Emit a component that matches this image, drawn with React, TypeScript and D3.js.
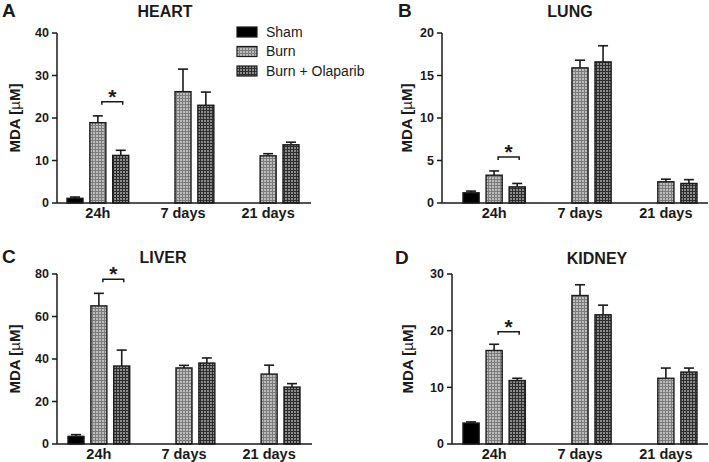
import { useEffect } from 'react'
import * as d3 from 'd3'

// time points and treatment groups
const groups = ['24h', '7 days', '21 days']
const series = ['Sham', 'Burn', 'Burn + Olaparib']

// MDA [µM], mean and SEM (upper error only), one array per series
const heartSham = [1.1, null, null]
const heartShamErr = [0.3, null, null]
const heartBurn = [18.9, 26.2, 11.1]
const heartBurnErr = [1.6, 5.3, 0.5]
const heartOla = [11.2, 23.0, 13.7]
const heartOlaErr = [1.2, 3.1, 0.6]

const lungSham = [1.2, null, null]
const lungShamErr = [0.2, null, null]
const lungBurn = [3.27, 15.9, 2.5]
const lungBurnErr = [0.5, 0.9, 0.3]
const lungOla = [1.9, 16.6, 2.3]
const lungOlaErr = [0.4, 1.9, 0.45]

const liverSham = [3.6, null, null]
const liverShamErr = [0.8, null, null]
const liverBurn = [65.0, 35.8, 32.9]
const liverBurnErr = [5.9, 1.2, 4.2]
const liverOla = [36.7, 38.1, 26.8]
const liverOlaErr = [7.5, 2.4, 1.6]

const kidneySham = [3.7, null, null]
const kidneyShamErr = [0.2, null, null]
const kidneyBurn = [16.5, 26.2, 11.6]
const kidneyBurnErr = [1.1, 1.9, 1.8]
const kidneyOla = [11.2, 22.8, 12.7]
const kidneyOlaErr = [0.4, 1.7, 0.7]

const heartTicks = [0, 10, 20, 30, 40]
const lungTicks = [0, 5, 10, 15, 20]
const liverTicks = [0, 20, 40, 60, 80]
const kidneyTicks = [0, 10, 20, 30]

// significance bracket (Burn vs Burn + Olaparib at 24h), in data units
const heartSig = 23.8
const lungSig = 5.4
const liverSig = 77.5
const kidneySig = 19.8

const FONT = '"Liberation Sans", Arial, sans-serif'
const INK = '#1a1a1a'
const fills = ['#000', 'url(#patBurn)', 'url(#patOla)']

type Panel = {
  letter: string
  title: string
  means: (number | null)[][]
  errs: (number | null)[][]
  ticks: number[]
  sig: number
  axisX: number
  barL: number
  barR: number
  axisR: number
  top: number
  zero: number
  letterX: number
  letterY: number
  titleX: number
  titleY: number
  labelX: number
}

const panels: Panel[] = [
  {
    letter: 'A', title: 'HEART',
    means: [heartSham, heartBurn, heartOla], errs: [heartShamErr, heartBurnErr, heartOlaErr],
    ticks: heartTicks, sig: heartSig,
    axisX: 57, barL: 67, barR: 299, axisR: 311, top: 33, zero: 203,
    letterX: 2, letterY: 17, titleX: 165, titleY: 17, labelX: 15,
  },
  {
    letter: 'B', title: 'LUNG',
    means: [lungSham, lungBurn, lungOla], errs: [lungShamErr, lungBurnErr, lungOlaErr],
    ticks: lungTicks, sig: lungSig,
    axisX: 442, barL: 463, barR: 697, axisR: 708, top: 33, zero: 203,
    letterX: 398, letterY: 17, titleX: 570, titleY: 17, labelX: 407,
  },
  {
    letter: 'C', title: 'LIVER',
    means: [liverSham, liverBurn, liverOla], errs: [liverShamErr, liverBurnErr, liverOlaErr],
    ticks: liverTicks, sig: liverSig,
    axisX: 57, barL: 68, barR: 300, axisR: 312, top: 274, zero: 444,
    letterX: 2, letterY: 263, titleX: 163, titleY: 263, labelX: 15,
  },
  {
    letter: 'D', title: 'KIDNEY',
    means: [kidneySham, kidneyBurn, kidneyOla], errs: [kidneyShamErr, kidneyBurnErr, kidneyOlaErr],
    ticks: kidneyTicks, sig: kidneySig,
    axisX: 452, barL: 463, barR: 697, axisR: 708, top: 274, zero: 444,
    letterX: 395, letterY: 264, titleX: 597, titleY: 264, labelX: 408,
  },
]

function BarPanel({ p }: { p: Panel }) {
  const y = d3.scaleLinear()
    .domain([0, p.ticks[p.ticks.length - 1]])
    .range([p.zero, p.top])
  const x0 = d3.scaleBand<string>().domain(groups).range([p.barL, p.barR]).paddingInner(0.275)
  const x1 = d3.scaleBand<string>().domain(series).range([0, x0.bandwidth()]).paddingInner(0.3)
  const bw = x1.bandwidth()

  const bx = (gi: number, si: number) => (x0(groups[gi]) ?? 0) + (x1(series[si]) ?? 0)
  const sigL = bx(0, 1) + bw / 2 + 4
  const sigR = bx(0, 2) + bw / 2 + 2
  const sigY = y(p.sig)

  return (
    <g>
      <text x={p.letterX} y={p.letterY} style={{ fontSize: 19, fontWeight: 700, fontFamily: FONT, fill: INK }}>
        {p.letter}
      </text>
      <text x={p.titleX} y={p.titleY} textAnchor="middle"
        style={{ fontSize: 16, fontWeight: 700, fontFamily: FONT, fill: INK }}>
        {p.title}
      </text>

      {/* bars + error bars */}
      {p.means.map((row, si) =>
        row.map((v, gi) => {
          if (v == null) return null
          const e = p.errs[si][gi] ?? 0
          const x = bx(gi, si)
          const cx = x + bw / 2
          return (
            <g key={`${si}-${gi}`}>
              <line x1={cx} x2={cx} y1={y(v)} y2={y(v + e)} stroke={INK} strokeWidth={1.6} />
              <line x1={cx - 5} x2={cx + 5} y1={y(v + e)} y2={y(v + e)} stroke={INK} strokeWidth={1.6} />
              <rect x={x} y={y(v)} width={bw} height={p.zero - y(v)}
                fill={fills[si]} stroke={INK} strokeWidth={1.4} />
            </g>
          )
        })
      )}

      {/* significance bracket */}
      <path d={`M${sigL},${sigY + 3}V${sigY}H${sigR}V${sigY + 3}`} fill="none" stroke={INK} strokeWidth={1.5} />
      <text x={(sigL + sigR) / 2} y={sigY + 2} textAnchor="middle"
        style={{ fontSize: 21, fontWeight: 700, fontFamily: FONT, fill: INK }}>
        *
      </text>

      {/* y axis */}
      <line x1={p.axisX} x2={p.axisX} y1={p.top} y2={p.zero} stroke={INK} strokeWidth={1.5} />
      {p.ticks.map((t) => (
        <g key={t}>
          <line x1={p.axisX - 5} x2={p.axisX} y1={y(t)} y2={y(t)} stroke={INK} strokeWidth={1.5} />
          <text x={p.axisX - 8} y={y(t)} dy="0.35em" textAnchor="end"
            style={{ fontSize: 12.5, fontWeight: 700, fontFamily: FONT, fill: INK }}>
            {t}
          </text>
        </g>
      ))}
      <text transform={`translate(${p.labelX},${(p.top + p.zero) / 2}) rotate(-90)`} textAnchor="middle" dy="0.35em"
        style={{ fontSize: 15, fontWeight: 700, fontFamily: FONT, fill: INK }}>
        MDA [<tspan style={{ fontWeight: 400 }}>µ</tspan>M]
      </text>

      {/* x axis */}
      <line x1={p.axisX} x2={p.axisR} y1={p.zero} y2={p.zero} stroke={INK} strokeWidth={1.5} />
      {groups.map((g) => (
        <text key={g} x={(x0(g) ?? 0) + x0.bandwidth() / 2} y={p.zero + 10} dy="0.35em" textAnchor="middle"
          style={{ fontSize: 14.5, fontWeight: 700, fontFamily: FONT, fill: INK }}>
          {g}
        </text>
      ))}
    </g>
  )
}

export default function App() {
  useEffect(() => {
    document.body.style.margin = '0'
  }, [])

  const legendY = d3.scalePoint<string>().domain(series).range([32, 71])

  return (
    <svg width={709} height={462} style={{ display: 'block', background: '#fff' }}>
      <defs>
        {/* fine checkered grid, as in the Prism fill */}
        <pattern id="patBurn" width={3} height={3} patternUnits="userSpaceOnUse">
          <rect width={3} height={3} fill="#7c7c7c" />
          <rect width={2} height={2} fill="#bdbdbd" />
        </pattern>
        <pattern id="patOla" width={3} height={3} patternUnits="userSpaceOnUse">
          <rect width={3} height={3} fill="#2e2e2e" />
          <rect width={2} height={2} fill="#8a8a8a" />
        </pattern>
      </defs>

      {panels.map((p) => <BarPanel key={p.letter} p={p} />)}

      {/* legend */}
      {series.map((s, i) => (
        <g key={s}>
          <rect x={237} y={(legendY(s) ?? 0) - 5} width={20} height={10} fill={fills[i]} stroke={INK} strokeWidth={1.2} />
          <text x={266} y={legendY(s) ?? 0} dy="0.35em" style={{ fontSize: 14, fontFamily: FONT, fill: INK }}>
            {s}
          </text>
        </g>
      ))}
    </svg>
  )
}
